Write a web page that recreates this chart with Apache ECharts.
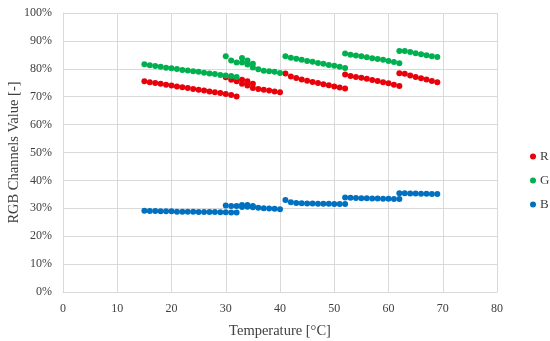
<!DOCTYPE html>
<html>
<head>
<meta charset="utf-8">
<script src="https://cdn.jsdelivr.net/npm/echarts@6/dist/echarts.min.js"></script>
<style>html,body{margin:0;padding:0;background:#fff}#c{width:550px;height:341px}</style>
</head>
<body>
<div id="c"></div>
<script>
// Temperatures (°C) for each measurement run
var T1 = [15,16,17,18,19,20,21,22,23,24,25,26,27,28,29,30,31,32];
var T2 = [30,31,32,33,33,34,34,35,35,36,37,38,39,40];
var T3 = [41,42,43,44,45,46,47,48,49,50,51,52];
var T4 = [52,53,54,55,56,57,58,59,60,61,62];
var T5 = [62,63,64,65,66,67,68,69];

// R channel (%)
var R1 = [75.5,75.2,74.9,74.6,74.3,74.0,73.7,73.4,73.1,72.8,72.5,72.2,71.9,71.6,71.3,71.0,70.6,70.1];
var R2 = [77.0,76.1,75.5,76.1,74.6,75.5,74.0,74.6,73.1,72.8,72.5,72.2,71.9,71.6];
var R3 = [78.3,77.2,76.7,76.2,75.7,75.3,74.9,74.5,74.1,73.7,73.3,72.9];
var R4 = [78.0,77.4,77.1,76.8,76.4,76.0,75.6,75.2,74.8,74.3,73.8];
var R5 = [78.4,78.2,77.6,77.1,76.6,76.2,75.6,75.2];

// G channel (%)
var G1 = [81.6,81.3,81.0,80.7,80.4,80.2,79.9,79.6,79.4,79.1,78.9,78.6,78.3,78.1,77.8,77.6,77.4,77.1];
var G2 = [84.5,83.0,82.3,83.9,82.3,83.0,81.5,81.8,80.5,79.8,79.3,79.1,78.9,78.5];
var G3 = [84.5,84.0,83.6,83.2,82.8,82.5,82.1,81.8,81.4,81.1,80.7,80.3];
var G4 = [85.5,85.0,84.8,84.5,84.1,83.8,83.5,83.2,82.8,82.4,82.0];
var G5 = [86.4,86.4,86.0,85.6,85.2,84.9,84.5,84.2];

// B channel (%)
var B1 = [29.1,29.0,29.0,28.9,28.9,28.9,28.8,28.8,28.8,28.8,28.7,28.7,28.7,28.7,28.6,28.6,28.5,28.5];
var B2 = [31.0,30.8,30.8,31.2,30.5,31.2,30.6,30.8,30.4,30.2,30.0,29.9,29.8,29.7];
var B3 = [33.0,32.2,31.9,31.8,31.7,31.7,31.6,31.6,31.6,31.5,31.5,31.5];
var B4 = [33.9,33.8,33.7,33.6,33.6,33.5,33.5,33.4,33.4,33.3,33.3];
var B5 = [35.4,35.4,35.3,35.3,35.2,35.2,35.1,35.1];

var seriesNames = ['R','G','B'];
var xTicks = [0,10,20,30,40,50,60,70,80];

function pairs(tArrs, vArrs){
  var out = [];
  for (var i = 0; i < tArrs.length; i++)
    for (var j = 0; j < tArrs[i].length; j++) out.push([tArrs[i][j], vArrs[i][j]]);
  return out;
}
var Ts = [T1,T2,T3,T4,T5];
var dataR = pairs(Ts, [R1,R2,R3,R4,R5]);
var dataG = pairs(Ts, [G1,G2,G3,G4,G5]);
var dataB = pairs(Ts, [B1,B2,B3,B4,B5]);

var font = "'Liberation Serif', 'DejaVu Serif', serif";
var txt = '#404040';
var grid = '#d9d9d9';

var chart = echarts.init(document.getElementById('c'), null, {renderer:'canvas'});
chart.setOption({
  animation: false,
  backgroundColor: '#fff',
  textStyle: {fontFamily: font, color: txt},
  grid: {left: 63, right: 53, top: 13, bottom: 49, containLabel: false, outerBoundsMode: 'none'},
  legend: {
    orient: 'vertical', left: 525, top: 145,
    itemWidth: 6, itemHeight: 6, itemGap: 11, icon: 'circle',
    textStyle: {fontFamily: font, fontSize: 13, color: txt, padding: [0,0,0,-1]},
    data: seriesNames
  },
  xAxis: {
    type: 'value', min: xTicks[0], max: xTicks[xTicks.length-1], interval: 10,
    name: 'Temperature [°C]', nameLocation: 'middle', nameGap: 32, nameMoveOverlap: false,
    nameTextStyle: {fontFamily: font, fontSize: 14.5, color: txt},
    axisLine: {show: true, lineStyle: {color: grid}},
    axisTick: {show: false},
    axisLabel: {fontFamily: font, fontSize: 12, color: txt, margin: 11},
    splitLine: {show: true, lineStyle: {color: grid, width: 1}}
  },
  yAxis: {
    type: 'value', min: 0, max: 100, interval: 10,
    name: 'RGB Channels Value [-]', nameLocation: 'middle', nameGap: 41, nameMoveOverlap: false,
    nameTextStyle: {fontFamily: font, fontSize: 14.5, color: txt},
    axisLine: {show: true, lineStyle: {color: grid}},
    axisTick: {show: false},
    axisLabel: {fontFamily: font, fontSize: 12, color: txt, margin: 11, formatter: '{value}%'},
    splitLine: {show: true, lineStyle: {color: grid, width: 1}}
  },
  series: [
    {name: 'R', type: 'scatter', symbolSize: 6, itemStyle: {color: '#e8000b', opacity: 1}, data: dataR},
    {name: 'G', type: 'scatter', symbolSize: 6, itemStyle: {color: '#00b050', opacity: 1}, data: dataG},
    {name: 'B', type: 'scatter', symbolSize: 6, itemStyle: {color: '#0070c0', opacity: 1}, data: dataB}
  ]
});
</script>
</body>
</html>
